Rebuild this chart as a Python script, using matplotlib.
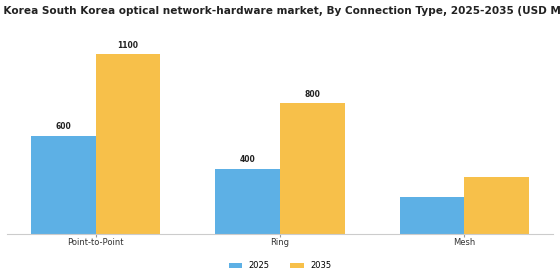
import matplotlib.pyplot as plt
import numpy as np

categories = ["Point-to-Point", "Ring", "Mesh"]
years = ["2025", "2035"]
values_2025 = [600, 400, 230]
values_2035 = [1100, 800, 350]
labels_2025 = ["600", "400", ""]
labels_2035 = ["1100", "800", ""]
colors = ["#5DB0E5", "#F7C04A"]

fig = plt.figure(figsize=(5.6, 2.8), dpi=100)
ax = fig.add_axes([0.0125, 0.164, 0.975, 0.70])

x = np.arange(len(categories))
w = 0.35
b1 = ax.bar(x - w / 2, values_2025, w, color=colors[0], label=years[0])
b2 = ax.bar(x + w / 2, values_2035, w, color=colors[1], label=years[1])

for bars, labs in ((b1, labels_2025), (b2, labels_2035)):
    for bar, lab in zip(bars, labs):
        if lab:
            ax.text(bar.get_x() + bar.get_width() / 2, bar.get_height() + 30, lab,
                    ha="center", va="bottom", fontsize=5.5, fontweight="bold", color="#222222")

ax.set_xlim(-0.48, 2.48)
ax.set_ylim(0, 1200)
ax.set_xticks(x)
ax.set_xticklabels(categories, fontsize=6, color="#333333")
ax.set_yticks([])
for s in ["top", "right", "left"]:
    ax.spines[s].set_visible(False)
ax.spines["bottom"].set_color("#cccccc")
ax.tick_params(axis="x", length=2, color="#999999", pad=1)

fig.text(0.5, 0.96, "South Korea South Korea optical network-hardware market, By Connection Type, 2025-2035 (USD Million)",
         ha="center", va="center", fontsize=7.6, fontweight="bold", color="#222222")

ax.legend(loc="upper center", bbox_to_anchor=(0.5, -0.10), ncol=2, frameon=False,
          fontsize=6, handlelength=1.6, handleheight=0.5, columnspacing=2.5)

fig.savefig("out.png", dpi=100)
